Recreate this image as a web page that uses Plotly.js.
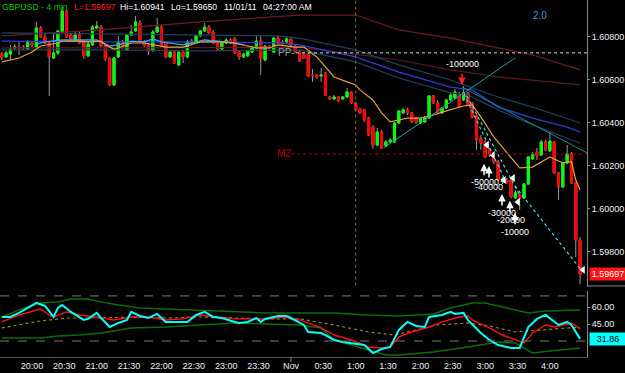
<!DOCTYPE html>
<html><head><meta charset="utf-8">
<script src="https://cdn.plot.ly/plotly-3.0.1.min.js"></script>
<style>html,body{margin:0;padding:0;background:#000;}#chart{width:625px;height:373px;}</style>
</head><body><div id="chart"></div>
<script>
// ---------- DATA (x = minutes after 20:00, 31 Oct 2011; 4-minute bars) ----------
const barTime = [-28,-24,-20,-16,-12,-8,-4,0,4,8,12,16,20,24,28,32,36,40,44,48,52,56,60,64,68,72,76,80,84,88,92,96,100,104,108,112,116,120,124,128,132,136,140,144,148,152,156,160,164,168,172,176,180,184,188,192,196,200,204,208,212,216,220,224,228,232,236,240,244,248,252,256,260,264,268,272,276,280,284,288,292,296,300,304,308,312,316,320,324,328,332,336,340,344,348,352,356,360,364,368,372,376,380,384,388,392,396,400,404,408,412,416,420,424,428,432,436,440,444,448,452,456,460,464,468,472,476,480,484,488,492,496,500,504,508];
const openP = [
1.60721,1.60707,1.60721,1.60749,1.60753,1.60753,1.60744,1.60772,1.60753,1.60842,
1.60800,1.60772,1.60702,1.60726,1.60823,1.60921,1.60809,1.60781,1.60814,1.60777,
1.60712,1.60763,1.60842,1.60846,1.60758,1.60702,1.60577,1.60707,1.60777,1.60740,
1.60809,1.60828,1.60865,1.60777,1.60763,1.60740,1.60823,1.60846,1.60772,1.60707,
1.60730,1.60670,1.60730,1.60707,1.60781,1.60777,1.60805,1.60828,1.60846,1.60823,
1.60772,1.60744,1.60772,1.60786,1.60791,1.60730,1.60707,1.60712,1.60730,1.60749,
1.60781,1.60693,1.60758,1.60730,1.60795,1.60777,1.60777,1.60791,1.60758,1.60730,
1.60716,1.60721,1.60623,1.60623,1.60619,1.60633,1.60521,1.60512,1.60521,1.60512,
1.60521,1.60544,1.60493,1.60465,1.60461,1.60423,1.60381,1.60298,1.60358,1.60293,
1.60312,1.60312,1.60400,1.60447,1.60461,1.60447,1.60423,1.60400,1.60405,1.60423,
1.60526,1.60493,1.60447,1.60470,1.60507,1.60516,1.60530,1.60507,1.60540,1.60493,
1.60433,1.60326,1.60312,1.60275,1.60237,1.60219,1.60126,1.60135,1.60135,1.60051,
1.60065,1.60051,1.60116,1.60233,1.60265,1.60251,1.60312,1.60270,1.60312,1.60168,
1.60102,1.60214,1.60256,1.60121,1.59856];
const highP = [
1.60730,1.60735,1.60763,1.60767,1.60777,1.60763,1.60786,1.60781,1.60870,1.60851,
1.60814,1.60781,1.60814,1.60833,1.60941,1.60926,1.60819,1.60828,1.60823,1.60786,
1.60777,1.60856,1.60874,1.60856,1.60763,1.60707,1.60707,1.60805,1.60786,1.60814,
1.60856,1.60898,1.60879,1.60786,1.60772,1.60833,1.60888,1.60856,1.60781,1.60740,
1.60740,1.60735,1.60740,1.60786,1.60791,1.60809,1.60833,1.60865,1.60856,1.60833,
1.60777,1.60777,1.60795,1.60795,1.60800,1.60735,1.60726,1.60740,1.60758,1.60805,
1.60805,1.60763,1.60763,1.60800,1.60805,1.60786,1.60800,1.60795,1.60763,1.60740,
1.60730,1.60730,1.60651,1.60628,1.60656,1.60637,1.60526,1.60530,1.60526,1.60526,
1.60563,1.60549,1.60498,1.60470,1.60465,1.60428,1.60391,1.60377,1.60368,1.60321,
1.60330,1.60405,1.60461,1.60470,1.60470,1.60451,1.60428,1.60423,1.60433,1.60530,
1.60530,1.60507,1.60474,1.60512,1.60540,1.60558,1.60544,1.60572,1.60544,1.60498,
1.60437,1.60344,1.60321,1.60284,1.60247,1.60228,1.60149,1.60144,1.60144,1.60089,
1.60070,1.60121,1.60247,1.60265,1.60284,1.60321,1.60321,1.60358,1.60316,1.60172,
1.60219,1.60298,1.60265,1.60126,1.59870];
const lowP = [
1.60693,1.60702,1.60693,1.60740,1.60716,1.60740,1.60740,1.60753,1.60749,1.60795,
1.60767,1.60526,1.60698,1.60716,1.60819,1.60795,1.60781,1.60777,1.60767,1.60698,
1.60707,1.60758,1.60837,1.60753,1.60688,1.60572,1.60572,1.60702,1.60744,1.60735,
1.60805,1.60823,1.60772,1.60753,1.60716,1.60730,1.60819,1.60758,1.60702,1.60702,
1.60674,1.60665,1.60679,1.60702,1.60767,1.60772,1.60800,1.60823,1.60814,1.60767,
1.60735,1.60740,1.60767,1.60767,1.60721,1.60693,1.60702,1.60707,1.60726,1.60744,
1.60623,1.60688,1.60744,1.60726,1.60767,1.60763,1.60772,1.60758,1.60726,1.60684,
1.60698,1.60614,1.60591,1.60605,1.60591,1.60526,1.60507,1.60507,1.60498,1.60507,
1.60516,1.60488,1.60456,1.60442,1.60405,1.60340,1.60279,1.60293,1.60279,1.60288,
1.60307,1.60307,1.60395,1.60442,1.60437,1.60400,1.60395,1.60395,1.60400,1.60419,
1.60488,1.60442,1.60442,1.60465,1.60502,1.60512,1.60470,1.60502,1.60479,1.60423,
1.60275,1.60275,1.60237,1.60242,1.60209,1.60130,1.60116,1.60116,1.60051,1.60047,
1.59996,1.60047,1.60112,1.60228,1.60228,1.60247,1.60270,1.60265,1.60163,1.60042,
1.60098,1.60209,1.60116,1.59777,1.59650];
const closeP = [
1.60707,1.60726,1.60744,1.60753,1.60749,1.60749,1.60777,1.60763,1.60842,1.60800,
1.60772,1.60707,1.60726,1.60828,1.60921,1.60800,1.60791,1.60809,1.60772,1.60712,
1.60767,1.60846,1.60851,1.60758,1.60698,1.60577,1.60702,1.60777,1.60753,1.60809,
1.60823,1.60870,1.60777,1.60763,1.60735,1.60823,1.60846,1.60763,1.60707,1.60730,
1.60679,1.60730,1.60707,1.60777,1.60772,1.60805,1.60828,1.60846,1.60819,1.60772,
1.60744,1.60772,1.60786,1.60772,1.60726,1.60707,1.60721,1.60735,1.60753,1.60781,
1.60702,1.60758,1.60749,1.60795,1.60772,1.60772,1.60791,1.60763,1.60730,1.60688,
1.60702,1.60619,1.60621,1.60614,1.60623,1.60530,1.60512,1.60521,1.60502,1.60521,
1.60544,1.60493,1.60461,1.60447,1.60414,1.60344,1.60298,1.60358,1.60284,1.60312,
1.60321,1.60400,1.60456,1.60461,1.60447,1.60405,1.60405,1.60419,1.60423,1.60526,
1.60493,1.60447,1.60470,1.60507,1.60530,1.60544,1.60474,1.60540,1.60484,1.60428,
1.60321,1.60307,1.60242,1.60251,1.60219,1.60135,1.60140,1.60126,1.60056,1.60075,
1.60051,1.60116,1.60242,1.60256,1.60247,1.60312,1.60275,1.60316,1.60168,1.60102,
1.60214,1.60256,1.60121,1.59856,1.59697];

// overlay averages / envelopes
const orangeT = [-28,-12,0,8,24,28,40,52,64,68,76,80,92,104,124,140,156,172,188,196,208,220,228,244,252,264,272,280,292,300,304,316,324,332,340,348,360,372,384,400,408,416,428,440,452,464,472,480,492,500,504,508];
const orangeP = [1.60684,1.60702,1.60730,1.60758,1.60772,1.60781,1.60781,1.60777,1.60781,1.60763,1.60744,1.60749,1.60772,1.60772,1.60753,1.60753,1.60777,1.60777,1.60772,1.60763,1.60749,1.60749,1.60763,1.60753,1.60753,1.60707,1.60660,1.60614,1.60591,1.60577,1.60554,1.60507,1.60447,1.60405,1.60414,1.60423,1.60423,1.60437,1.60456,1.60479,1.60484,1.60428,1.60335,1.60261,1.60191,1.60195,1.60219,1.60242,1.60214,1.60219,1.60135,1.60089];
const lightBlueT = [4,12,28,44,60,72,80,92,104,112,120,140,160,180,196];
const lightBlueP = [1.60767,1.60777,1.60786,1.60786,1.60786,1.60758,1.60763,1.60781,1.60777,1.60791,1.60777,1.60763,1.60786,1.60777,1.60763];
const blueT = [-28,64,156,228,248,300,340,388,408,432,464,496,508];
const blueP = [1.60781,1.60777,1.60777,1.60772,1.60763,1.60707,1.60637,1.60567,1.60554,1.60474,1.60423,1.60381,1.60358];
const slateUpT = [-28,64,156,228,248,300,340,388,432,464,500,508];
const slateUpP = [1.60819,1.60814,1.60809,1.60805,1.60795,1.60740,1.60670,1.60600,1.60521,1.60474,1.60414,1.60400];
const slateLoT = [-28,64,156,228,248,300,340,388,404,432,464,500,508];
const slateLoP = [1.60740,1.60740,1.60735,1.60740,1.60740,1.60684,1.60609,1.60540,1.60530,1.60461,1.60391,1.60321,1.60307];
const maroonUpT = [-28,64,156,248,300,340,388,432,464,508];
const maroonUpP = [1.60805,1.60833,1.60870,1.60902,1.60902,1.60833,1.60795,1.60749,1.60716,1.60647];
const maroonLoT = [-28,108,248,340,388,432,508];
const maroonLoP = [1.60749,1.60749,1.60753,1.60693,1.60647,1.60614,1.60577];

// drawn trend lines
const trendUpT = [326, 447.6],   trendUpP = [1.60284, 1.60702];
const trendDnT = [398.5, 514.4], trendDnP = [1.60567, 1.60261];
const dot1T = [400.4, 438.4], dot1P = [1.60535, 1.60135];
const dot2T = [403, 452.3],   dot2P = [1.60526, 1.60061];
const dot3T = [447.6, 509.7], dot3P = [1.60107, 1.59712];

// trade markers
const triT = [421.7, 427.2, 437.4, 445.8, 450.4, 510.7];
const triP = [1.60298, 1.60251, 1.60135, 1.60144, 1.60033, 1.59717];
const buyArrowT = [419, 423.5, 435.6, 443, 447.6];
const buyArrowP = [1.60210, 1.60200, 1.60070, 1.60038, 1.59982];
const sizeLabels = ['-50000','-40000','-30000','-20000','-10000'];
const sizeLabelT = [419.8, 423.5, 435.6, 444, 447.6];
const sizeLabelP = [1.60126, 1.60102, 1.59982, 1.59949, 1.59893];
const sellArrowT = 398.5, sellArrowP = 1.60577;
const sellLabel = '-100000', sellLabelT = 399.4, sellLabelP = 1.60674;

// levels
const ppLevel = 1.60726, ppStart = 244.7;
const m2Level = 1.60256, m2Start = 240;
const sessionT = 300;
const lastPrice = 1.59697;

// oscillator panel
const rsiT = [-28,-20,-12,-4,4,12,16,20,24,28,36,48,52,60,64,72,80,88,92,100,108,116,124,136,144,152,160,168,176,188,192,200,208,212,216,228,236,240,252,256,268,272,280,288,296,308,316,324,332,340,348,356,364,368,380,388,392,400,404,416,424,432,444,452,460,468,476,484,488,496,500,508];
const rsiV = [51.3,51.3,54.9,59.3,63.8,61.1,55.8,51.3,59.3,62.0,55.8,48.7,49.6,54.9,50.4,42.4,46.0,48.7,55.8,52.2,50.4,54.0,46.9,46.9,46.9,53.1,55.8,51.3,50.4,46.9,46.0,46.9,50.4,46.9,49.6,52.2,52.2,50.4,44.2,38.0,37.1,35.3,30.9,29.1,28.2,26.4,19.3,22.9,24.7,39.8,46.9,43.3,42.4,51.3,53.1,55.8,54.0,54.9,48.7,37.1,30.9,26.4,23.8,23.8,42.4,49.6,53.1,46.9,44.2,46.9,44.2,31.86];
const sigT = [-28,-12,8,16,20,32,44,60,76,92,108,124,140,156,172,188,204,220,232,248,268,280,296,312,324,332,340,352,368,380,396,404,408,424,436,448,456,464,476,484,492,500,508];
const sigV = [46.9,53.1,58.4,53.1,51.3,55.8,53.1,51.3,48.7,51.3,51.3,48.7,49.6,53.1,51.3,49.6,49.6,49.6,51.3,48.7,41.6,35.3,30.9,24.7,23.8,24.7,33.6,38.0,42.4,46.9,51.3,52.2,48.7,41.6,35.3,30.9,28.2,37.1,44.2,42.4,44.2,46.0,40.7];
const bandUpT = [-28,-12,8,24,36,52,64,80,100,124,156,188,216,248,280,312,340,372,388,408,420,440,460,476,508];
const bandUpV = [51.3,57.6,63.8,64.7,67.3,67.3,64.7,62.0,59.3,58.4,56.7,55.8,54.9,54.9,54.9,53.1,52.2,54.0,59.3,63.8,63.8,59.3,54.9,56.7,57.6];
const bandLoT = [-28,8,24,44,64,92,124,156,188,216,248,268,280,312,328,340,372,404,432,448,464,480,508];
const bandLoV = [32.7,32.7,34.4,35.3,37.1,41.6,42.4,44.2,46.0,45.1,44.2,41.6,30.9,22.0,17.6,17.6,20.2,24.7,29.1,28.2,19.3,21.1,23.8];
const midT = [-28,-12,8,32,64,92,124,156,188,216,248,280,312,336,356,376,404,424,448,472,508];
const midV = [41.6,44.2,47.8,50.4,50.4,51.3,50.4,51.3,50.4,49.6,49.6,44.2,38.0,35.3,39.8,44.2,46.0,43.3,38.0,39.8,42.4];
const rsiLevels = [70, 30];
const rsiLast = 31.86;

const tickT = [0,30,60,90,120,150,180,210,240,270,300,330,360,390,420,450,480];
const tickLabels = ['20:00','20:30','21:00','21:30','22:00','22:30','23:00','23:30','Nov','0:30','1:00','1:30','2:00','2:30','3:00','3:30','4:00'];
const priceTicks = [1.598,1.600,1.602,1.604,1.606,1.608];
const oscTicks = [45, 60];

// ---------- CHART ----------
const FONT = 'Liberation Sans, Arial, sans-serif';
const xRange = [-29.66, 514.4];
function line(x, y, color, width, dash, yaxis) {
  return {type:'scatter', mode:'lines', x:x, y:y, xaxis:'x', yaxis:yaxis||'y',
    line:{color:color, width:width, dash:dash||'solid'}, hoverinfo:'skip'};
}
const bodyHigh = openP.map((o,i)=>Math.max(o, closeP[i]));
const bodyLow = openP.map((o,i)=>Math.min(o, closeP[i]));

const traces = [
  line(maroonUpT, maroonUpP, '#6a1e1e', 1.2),
  line(maroonLoT, maroonLoP, '#5e1a1a', 1.2),
  line(slateUpT, slateUpP, '#20405e', 1.2),
  line(slateLoT, slateLoP, '#20405e', 1.2),
  line(blueT, blueP, '#2a3ed8', 1.3),
  line(lightBlueT, lightBlueP, '#3aa4ee', 1.3),
  line(orangeT, orangeP, '#e3a23c', 1.2),
  line(trendUpT, trendUpP, '#1a9e9e', 1),
  line(trendDnT, trendDnP, '#168c8c', 1),
  line(dot1T, dot1P, '#3fe0e0', 1.2, 'dot'),
  line(dot2T, dot2P, '#3fe0e0', 1.2, 'dot'),
  line(dot3T, dot3P, '#3fe0e0', 1.2, 'dot'),
  {type:'candlestick', x:barTime, open:openP, high:highP, low:lowP, close:closeP,
   xaxis:'x', yaxis:'y', whiskerwidth:0, hoverinfo:'skip',
   increasing:{line:{color:'#9a9a9a', width:1}, fillcolor:'#00ff00'},
   decreasing:{line:{color:'#9a9a9a', width:1}, fillcolor:'#ff0000'}},
  {type:'candlestick', x:barTime, open:openP, high:bodyHigh, low:bodyLow, close:closeP,
   xaxis:'x', yaxis:'y', whiskerwidth:0, hoverinfo:'skip',
   increasing:{line:{color:'#00ff00', width:1}, fillcolor:'#00ff00'},
   decreasing:{line:{color:'#ff0000', width:1}, fillcolor:'#ff0000'}},
  {type:'scatter', mode:'markers', x:triT, y:triP, xaxis:'x', yaxis:'y', hoverinfo:'skip',
   marker:{symbol:'triangle-left', size:7, color:'#ffffff'}},
  line(bandUpT, bandUpV, '#0b6e0b', 1.5, 'solid', 'y2'),
  line(bandLoT, bandLoV, '#0b6e0b', 1.5, 'solid', 'y2'),
  line(midT, midV, '#9a8412', 1.2, 'dot', 'y2'),
  line(sigT, sigV, '#ff1010', 1.4, 'solid', 'y2'),
  line(rsiT, rsiV, '#00ffff', 2, 'solid', 'y2')
];

const tf = {family:FONT, size:9, color:'#f0f0f0'};
const shapes = [
  {type:'line', xref:'x', yref:'paper', x0:sessionT, x1:sessionT, y0:0.2, y1:1, line:{color:'#77773c', width:1, dash:'dot'}},
  {type:'line', xref:'x', yref:'y', x0:ppStart, x1:xRange[1], y0:ppLevel, y1:ppLevel, line:{color:'#d8d8d8', width:1, dash:'dot'}},
  {type:'line', xref:'x', yref:'y', x0:m2Start, x1:xRange[1], y0:m2Level, y1:m2Level, line:{color:'#a00000', width:1, dash:'dot'}},
  {type:'line', xref:'paper', yref:'paper', x0:1, x1:1.07, y0:0.199, y1:0.199, line:{color:'#8a8a8a', width:1}},
  {type:'line', xref:'x', yref:'paper', x0:240, x1:240, y0:0, y1:-0.014, line:{color:'#8a8a8a', width:1}}
].concat(rsiLevels.map(v=>({type:'line', xref:'paper', yref:'y2', x0:0, x1:1, y0:v, y1:v, line:{color:'#7a7a7a', width:1, dash:'dash'}})));

const headerParts = [
  {t:'GBPUSD - 4 min', c:'#00c800', px:0},
  {t:'L=1.59697', c:'#ff1a1a', px:72},
  {t:'Hi=1.60941', c:'#ffffff', px:118},
  {t:'Lo=1.59650', c:'#ffffff', px:169},
  {t:'11/01/11', c:'#ffffff', px:222},
  {t:'04:27:00 AM', c:'#ffffff', px:261}
];
const annotations = headerParts.map(h=>({xref:'paper', yref:'paper', x:h.px/587, y:0.980, xanchor:'left', yanchor:'middle',
  text:h.t, showarrow:false, font:{family:FONT, size:8.7, color:h.c}}));
annotations.push({xref:'x', yref:'y', x:470.8, y:1.60898, text:'2.0', showarrow:false, font:{family:FONT, size:10, color:'#3a9ad9'}});
annotations.push({xref:'x', yref:'y', x:236.3, y:ppLevel, text:'PP-', showarrow:false, font:{family:FONT, size:10, color:'#a0a0a0'}});
annotations.push({xref:'x', yref:'y', x:233.5, y:m2Level, text:'M2', showarrow:false, font:{family:FONT, size:10, color:'#b00000'}});
annotations.push({xref:'x', yref:'y', x:sellLabelT, y:sellLabelP, text:sellLabel, showarrow:false, font:{family:FONT, size:9, color:'#ffffff'}});
annotations.push({xref:'x', yref:'y', x:sellArrowT, y:sellArrowP, text:'', showarrow:true, ax:0, ay:-13,
  arrowcolor:'#ff2020', arrowhead:2, arrowsize:1, arrowwidth:1.5, standoff:0});
sizeLabels.forEach((s,i)=>annotations.push({xref:'x', yref:'y', x:sizeLabelT[i], y:sizeLabelP[i], text:s, showarrow:false,
  font:{family:FONT, size:9, color:'#ffffff'}}));
buyArrowT.forEach((t,i)=>annotations.push({xref:'x', yref:'y', x:t, y:buyArrowP[i], text:'', showarrow:true, ax:0, ay:13,
  arrowcolor:'#ffffff', arrowhead:2, arrowsize:1, arrowwidth:1.5, standoff:0}));
annotations.push({xref:'paper', yref:'y', x:1.003, y:lastPrice, xanchor:'left', yanchor:'middle', text:lastPrice.toFixed(5),
  showarrow:false, bgcolor:'#ff1414', borderpad:1, width:34, font:{family:FONT, size:9, color:'#ffffff'}});
annotations.push({xref:'paper', yref:'y2', x:1.003, y:rsiLast, xanchor:'left', yanchor:'middle', text:rsiLast.toFixed(2),
  showarrow:false, bgcolor:'#00ffff', borderpad:1, width:34, font:{family:FONT, size:9, color:'#000000'}});

const layout = {
  width:625, height:373, paper_bgcolor:'#000000', plot_bgcolor:'#000000',
  margin:{l:0, r:38, t:0, b:16}, showlegend:false, font:{family:FONT, color:'#f0f0f0'},
  xaxis:{range:xRange, anchor:'y2', tickvals:tickT, ticktext:tickLabels, tickfont:tf, ticks:'',
    showgrid:false, zeroline:false, showline:true, linecolor:'#555555', linewidth:1,
    rangeslider:{visible:false}, fixedrange:true},
  yaxis:{domain:[0.196,1], range:[1.59637,1.60972], side:'right', tickvals:priceTicks, tickformat:'.5f',
    tickfont:tf, ticks:'outside', ticklen:2, tickcolor:'#8a8a8a', showgrid:false, zeroline:false,
    showline:true, linecolor:'#8a8a8a', linewidth:1, fixedrange:true},
  yaxis2:{domain:[0,0.185], range:[15.8,74.4], side:'right', anchor:'x', tickvals:oscTicks, tickformat:'.2f',
    tickfont:tf, ticks:'outside', ticklen:2, tickcolor:'#8a8a8a', showgrid:false, zeroline:false,
    showline:true, linecolor:'#8a8a8a', linewidth:1, fixedrange:true},
  shapes:shapes, annotations:annotations
};
Plotly.newPlot('chart', traces, layout, {staticPlot:true, displayModeBar:false});
</script>
</body></html>
